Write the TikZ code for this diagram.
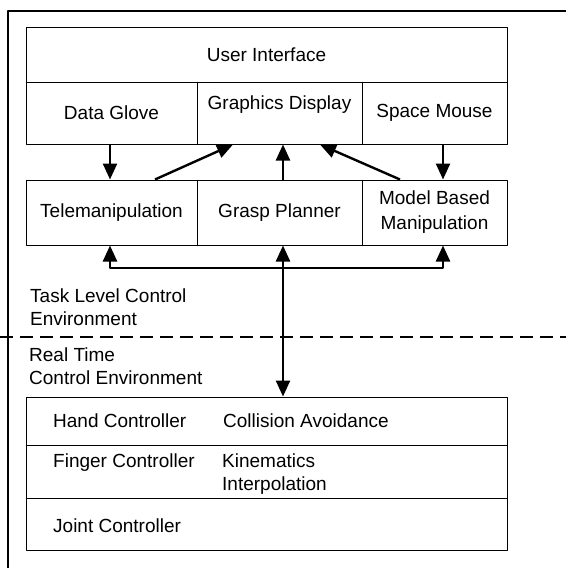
\documentclass[tikz,border=0pt]{standalone}
\usepackage{fontspec}
\setmainfont{Liberation Sans}
\usetikzlibrary{arrows.meta}

\tikzset{
  blk/.style={draw, line width=1pt, inner sep=0pt, align=center},
  lbl/.style={anchor=base west, inner sep=0pt, align=left},
  link/.style={line width=2.4pt},
}

\begin{document}
\begin{tikzpicture}[x=1pt,y=-1pt,line join=round,>={Triangle[length=16pt,width=14pt]},font=\fontsize{19}{23}\selectfont]

\useasboundingbox (0,0) rectangle (566,568);

% frame
\draw[line width=1.2pt] (8,568) -- (8,11) -- (566,11);

% user interface
\node[blk, minimum width=481pt, minimum height=55pt] (ui) at (266.5,54.5) {User Interface};
\node[blk, minimum width=171pt, minimum height=62pt] (glove) at (111.5,113) {Data Glove};
\node[blk, minimum width=165pt, minimum height=62pt, text depth=20pt] (gdisp) at (279.5,113) {Graphics Display};
\node[blk, minimum width=145pt, minimum height=62pt] (smouse) at (434.5,113) {Space Mouse};

% task level
\node[blk, minimum width=171pt, minimum height=65pt] (tele) at (111.5,212.5) {Telemanipulation};
\node[blk, minimum width=165pt, minimum height=65pt] (gplan) at (279.5,212.5) {Grasp Planner};
\node[blk, minimum width=145pt, minimum height=65pt] (model) at (434.5,212.5) {Model Based\\[2pt]Manipulation};

\draw[link,->] ([xshift=-1.5pt]glove.south) -- ([xshift=-1.5pt]tele.north);
\draw[link,->] ([xshift=43.5pt]tele.north) -- ([xshift=-46.5pt]gdisp.south);
\draw[link,->] ([xshift=3.5pt]gplan.north) -- ([xshift=3.5pt]gdisp.south);
\draw[link,->] ([xshift=-34.5pt]model.north) -- ([xshift=40.5pt]gdisp.south);
\draw[link,->] ([xshift=8.5pt]smouse.south) -- ([xshift=8.5pt]model.north);

% base anchor sits on the last line
\node[lbl] (tasklvl) at (30,325) {Task Level Control\\Environment};

% separation of the two environments
\draw[line width=2pt, dash pattern=on 13pt off 7pt] (0,337) -- (566,337);

\node[lbl] (realtime) at (29,384) {Real Time\\Control Environment};

% real time controllers
\node[blk, minimum width=481pt, minimum height=48pt] (hand) at (266.5,421) {};
\node[blk, minimum width=481pt, minimum height=53pt] (finger) at (266.5,471.5) {};
\node[blk, minimum width=481pt, minimum height=52pt] (joint) at (266.5,524) {};

\node[lbl] (handc) at (53,427) {Hand Controller};
\node[lbl] (collav) at (223,427) {Collision Avoidance};
\node[lbl] (fingerc) at (53,467) {Finger Controller};
\node[lbl] (kinint) at (222,490) {Kinematics\\Interpolation};
\node[lbl] (jointc) at (53,532) {Joint Controller};

% bus between the environments
\coordinate (bus) at (283,268);
\draw[link,<->] ([xshift=3.5pt]gplan.south) -- ([xshift=3.5pt]gplan.south |- hand.north);
\draw[link,->] (bus) -| ([xshift=-1.5pt]tele.south);
\draw[link,->] (bus) -| ([xshift=8.5pt]model.south);

\end{tikzpicture}
\end{document}
